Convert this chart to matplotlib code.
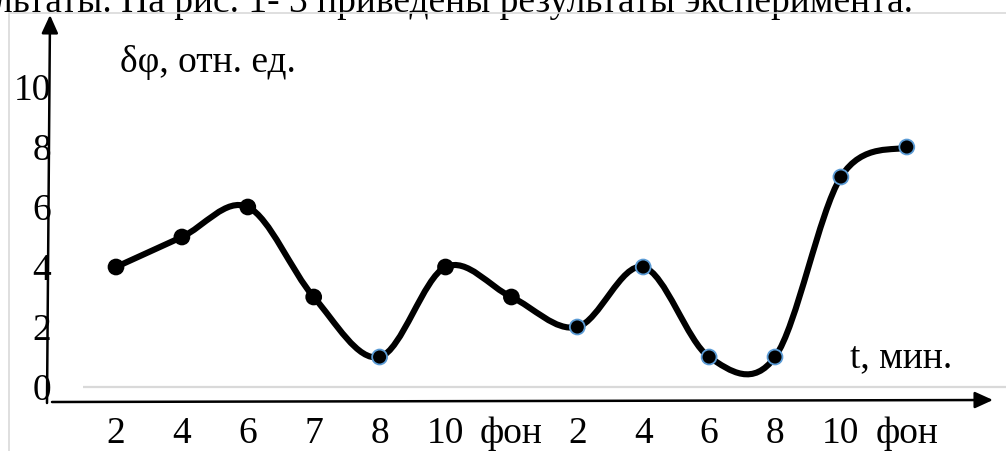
import matplotlib
matplotlib.use("Agg")
import matplotlib.pyplot as plt
from matplotlib.path import Path
from matplotlib.patches import PathPatch, Rectangle

plt.rcParams["font.family"] = ["Liberation Serif", "DejaVu Serif"]

# ---------------------------------------------------------------------------
# Data
# ---------------------------------------------------------------------------
time_labels = ["2", "4", "6", "7", "8", "10", "фон",
               "2", "4", "6", "8", "10", "фон"]
dphi = [4, 5, 6, 3, 1, 4, 3, 2, 4, 1, 1, 7, 8]
y_ticks = [0, 2, 4, 6, 8, 10]

# markers that carry a blue rim in the original
blue_rim = [4, 7, 8, 9, 10, 11, 12]

FS = 27

# ---------------------------------------------------------------------------
# Layout calibration (pixels of the 1006x451 picture)
# ---------------------------------------------------------------------------
W, H = 1006, 451
X0, DX = 116, 65.9      # pixel of first category, spacing
Y0, DY = 387, 30        # pixel row of value 0, pixels per unit


def px(xp, yp):
    """pixel (from top-left) -> data coordinates"""
    return (xp - X0) / DX, (Y0 - yp) / DY


fig = plt.figure(figsize=(W / 100, H / 100), dpi=100)
ax = fig.add_axes([0, 0, 1, 1])
ax.set_xlim(-X0 / DX, (W - X0) / DX)
ax.set_ylim((Y0 - H) / DY, Y0 / DY)
ax.axis("off")

# light chart frame
fig.patches.append(Rectangle((9 / W, -0.1), 1.2, (H - 13) / H + 0.1,
                             transform=fig.transFigure, fill=False,
                             edgecolor="#d9d9d9", lw=1.2))

# cropped line of body text above the chart
ax.text(*px(913, 12), "результаты. На рис. 1- 3 приведены результаты эксперимента.",
        ha="right", va="baseline", fontsize=FS, color="black")

# grey category axis at y = 0
ax.plot([-0.5, px(W + 5, 0)[0]], [0, 0], color="#d9d9d9", lw=1.6,
        solid_capstyle="butt", zorder=1)

# hand-drawn arrows
arrow = dict(arrowstyle="-|>,head_length=0.55,head_width=0.25",
             mutation_scale=20, lw=1.8, color="black",
             shrinkA=0, shrinkB=0)
ax.annotate("", xy=px(50, 15), xytext=px(47, 403), arrowprops=arrow)
ax.annotate("", xy=px(993, 400), xytext=px(52, 402), arrowprops=arrow)

# tick labels
for v in y_ticks:
    ax.text(px(51, 0)[0], v, str(v), ha="right", va="center_baseline",
            fontsize=FS)
for i, lab in enumerate(time_labels):
    ax.text(i, px(0, 443)[1], lab, ha="center", va="baseline", fontsize=FS)

# axis captions
ax.text(*px(120, 72), "δφ, отн. ед.", ha="left", va="baseline", fontsize=FS)
ax.text(*px(850, 367), "t, мин.", ha="left", va="baseline", fontsize=FS)

# smoothed line (Excel-style cubic Bezier through the points)
xs = list(range(len(dphi)))
verts = [(xs[0], dphi[0])]
codes = [Path.MOVETO]
n = len(dphi)
for k in range(n - 1):
    a = max(k - 1, 0)
    b = min(k + 2, n - 1)
    c1 = (xs[k] + (xs[k + 1] - xs[a]) / 6, dphi[k] + (dphi[k + 1] - dphi[a]) / 6)
    c2 = (xs[k + 1] - (xs[b] - xs[k]) / 6, dphi[k + 1] - (dphi[b] - dphi[k]) / 6)
    verts += [c1, c2, (xs[k + 1], dphi[k + 1])]
    codes += [Path.CURVE4] * 3
ax.add_patch(PathPatch(Path(verts, codes), fill=False, lw=4.4,
                       edgecolor="black", capstyle="round", zorder=3))

# markers
edge = ["#5b9bd5" if i in blue_rim else "black" for i in xs]
ax.scatter(xs, dphi, s=115, c="black", edgecolors=edge, linewidths=1.3,
           zorder=4)

fig.savefig("out.png", dpi=100)
